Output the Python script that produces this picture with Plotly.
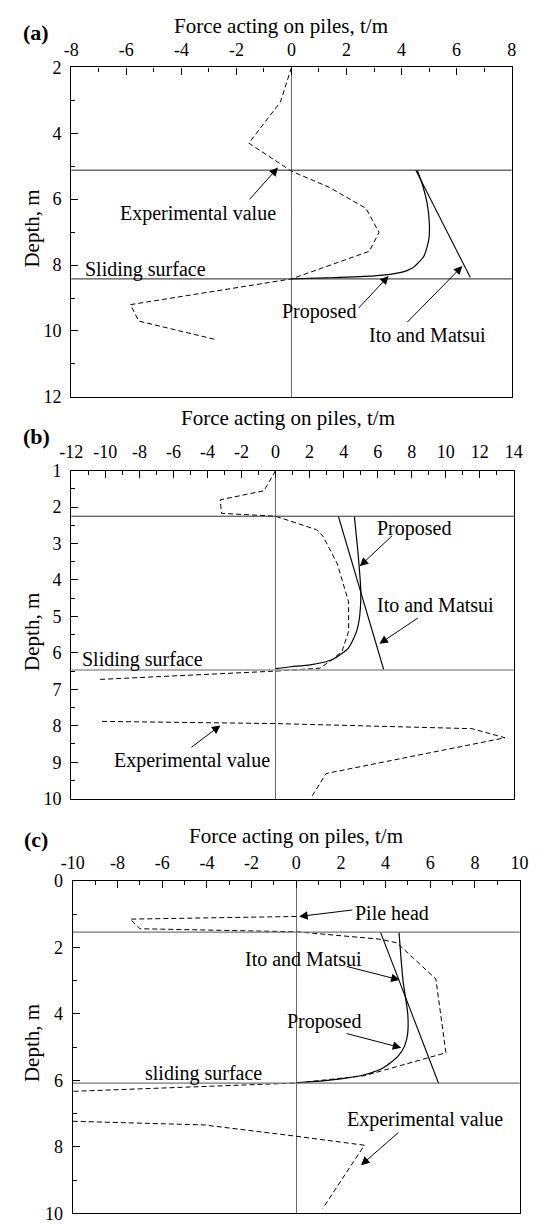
import plotly.graph_objects as go

# ---------------- data ----------------
# (a)
a_exp_force = [0.0, -0.4, -1.55, 0.0, 1.37, 2.71, 3.18, 2.83, 0.0, -5.85, -5.55, -2.7]
a_exp_depth = [2.0, 3.05, 4.3, 5.15, 5.64, 6.28, 7.01, 7.58, 8.42, 9.2, 9.7, 10.27]
a_prop_force = [4.57, 4.75, 4.93, 5.01, 4.99, 4.81, 4.41, 3.94, 3.0, 1.26, 0.0]
a_prop_depth = [5.12, 5.54, 6.13, 6.73, 7.23, 7.73, 8.08, 8.23, 8.33, 8.39, 8.42]
a_ito_force = [4.52, 6.5]
a_ito_depth = [5.12, 8.38]
a_pile_top = 5.12
a_sliding = 8.42

# (b)
b_exp_force = [0.0, -0.68, -3.25, -3.18, 0.0, 2.41, 2.79, 3.63, 4.29, 4.29, 3.91, 3.35, 2.6, 0.0, -10.39,
               None, -10.2, 0.0, 11.54, 13.48, 2.97, 2.13]
b_exp_depth = [1.0, 1.55, 1.8, 2.17, 2.25, 2.62, 2.8, 3.56, 4.6, 5.41, 5.95, 6.18, 6.42, 6.5, 6.73,
               None, 7.88, 7.94, 8.08, 8.33, 9.31, 9.94]
b_prop_force = [4.63, 4.86, 5.01, 4.95, 4.76, 4.29, 3.35, 2.03, 0.9, 0.0]
b_prop_depth = [2.25, 3.34, 4.33, 4.96, 5.41, 5.86, 6.18, 6.33, 6.38, 6.43]
b_ito_force = [3.69, 6.36]
b_ito_depth = [2.25, 6.47]
b_pile_top = 2.25
b_sliding = 6.47

# (c)
c_exp_force = [0.0, -7.43, -7.0, 0.0, 3.7, 4.5, 6.25, 6.7, 3.05, 0.0, -10.0,
               None, -10.0, -4.12, 0.0, 3.05, 1.19]
c_exp_depth = [1.07, 1.15, 1.44, 1.53, 1.75, 1.86, 2.95, 5.17, 5.86, 6.08, 6.33,
               None, 7.23, 7.34, 7.68, 7.95, 9.85]
c_prop_force = [4.6, 4.78, 4.99, 4.99, 4.85, 4.56, 3.92, 3.05, 1.91, 0.7, 0.0]
c_prop_depth = [1.54, 3.0, 3.98, 4.58, 4.97, 5.27, 5.61, 5.83, 5.96, 6.04, 6.07]
c_ito_force = [3.77, 6.38]
c_ito_depth = [1.54, 6.1]
c_pile_head = 1.54
c_sliding = 6.08

x_ranges = [[-8, 8], [-12, 14], [-10, 10]]
y_ranges = [[12, 2], [10, 1], [10, 0]]
x_dticks = [2, 2, 2]
y_dticks = [2, 1, 2]
panel_tags = ["(a)", "(b)", "(c)"]
x_title = "Force acting on piles, t/m"
y_title = "Depth, m"

# ---------------- layout helpers ----------------
W, H = 544, 1228
FONT = "Liberation Serif, Times New Roman, serif"
# plot boxes in pixels: left, right, top, bottom
boxes = [(61.7, 519.7, 58.3, 393.3),
         (61.7, 522.0, 468.3, 801.7),
         (63.3, 528.0, 885.3, 1223.3)]
x_label_gap = [3, 4, 4]


def fx(px):
    return px / W


def fy(py):
    return 1 - py / H


def tick_values(lo, hi, step):
    n = int(round((hi - lo) / step))
    return [lo + k * step for k in range(n + 1)]


fig = go.Figure()

series = [
    (a_exp_force, a_exp_depth, a_prop_force, a_prop_depth, a_ito_force, a_ito_depth),
    (b_exp_force, b_exp_depth, b_prop_force, b_prop_depth, b_ito_force, b_ito_depth),
    (c_exp_force, c_exp_depth, c_prop_force, c_prop_depth, c_ito_force, c_ito_depth),
]

for i, (ef, ed, pf, pd, itf, itd) in enumerate(series):
    xa = "x" if i == 0 else f"x{i+1}"
    ya = "y" if i == 0 else f"y{i+1}"
    fig.add_trace(go.Scatter(x=ef, y=ed, mode="lines", xaxis=xa, yaxis=ya,
                             line=dict(color="black", width=1, dash="5px,3px"),
                             connectgaps=False, showlegend=False))
    fig.add_trace(go.Scatter(x=pf, y=pd, mode="lines", xaxis=xa, yaxis=ya,
                             line=dict(color="black", width=1.2, shape="spline", smoothing=0.6),
                             showlegend=False))
    fig.add_trace(go.Scatter(x=itf, y=itd, mode="lines", xaxis=xa, yaxis=ya,
                             line=dict(color="black", width=1.1), showlegend=False))

    l, r, t, b = boxes[i]
    xt = tick_values(x_ranges[i][0], x_ranges[i][1], x_dticks[i])
    yt = tick_values(min(y_ranges[i]), max(y_ranges[i]), y_dticks[i])
    axis_common = dict(showline=True, linecolor="black", linewidth=1.3, mirror=True,
                       showgrid=False, ticks="inside", ticklen=7, tickwidth=1.2,
                       tickcolor="black",
                       tickfont=dict(family=FONT, size=18, color="black"))
    xkey = "xaxis" if i == 0 else f"xaxis{i+1}"
    ykey = "yaxis" if i == 0 else f"yaxis{i+1}"
    fig.update_layout({
        xkey: dict(axis_common, domain=[fx(l), fx(r)], anchor=ya, side="top",
                   range=x_ranges[i], tickmode="array", tickvals=xt,
                   ticktext=[f"{v:g}" for v in xt],
                   zeroline=True, zerolinecolor="#6a6a6a",
                   zerolinewidth=1, ticklabelstandoff=x_label_gap[i],
                   minor=dict(ticks="inside", ticklen=4, dtick=x_dticks[i] / 2,
                              tickcolor="black", tickwidth=1)),
        ykey: dict(axis_common, domain=[fy(b), fy(t)], anchor=xa,
                   range=y_ranges[i], tickmode="array", tickvals=yt,
                   ticktext=[f"{v:g}" for v in yt],
                   zeroline=False, ticklabelstandoff=5,
                   minor=dict(ticks="inside", ticklen=4, dtick=y_dticks[i] / 2,
                              tickcolor="black", tickwidth=1)),
    })

# horizontal reference levels (pile head / sliding surface)
level_lines = [("x", "y", a_pile_top, "#222", 1.0), ("x", "y", a_sliding, "#222", 1.0),
               ("x2", "y2", b_pile_top, "#333", 1.0), ("x2", "y2", b_sliding, "#999", 1.6),
               ("x3", "y3", c_pile_head, "#777", 1.2), ("x3", "y3", c_sliding, "#777", 1.2)]
for xa, ya, d, col, w in level_lines:
    fig.add_shape(type="line", xref=f"{xa} domain", yref=ya, x0=0, x1=1, y0=d, y1=d,
                  line=dict(color=col, width=w))

txt_font = dict(family=FONT, size=20, color="black")

# labels placed inside the axes (x, y in data units)
labels = [
    ("x", "y", -3.39, 6.43, "Experimental value"),
    ("x", "y", 1.0, 9.4, "Proposed"),
    ("x", "y", 4.93, 10.12, "Ito and Matsui"),
    ("x", "y", -5.31, 8.12, "Sliding surface"),
    ("x2", "y2", 8.14, 2.6, "Proposed"),
    ("x2", "y2", 9.41, 4.69, "Ito and Matsui"),
    ("x2", "y2", -7.82, 6.19, "Sliding surface"),
    ("x2", "y2", -4.93, 8.96, "Experimental value"),
    ("x3", "y3", 4.29, 0.97, "Pile head"),
    ("x3", "y3", 0.34, 2.35, "Ito and Matsui"),
    ("x3", "y3", 1.26, 4.23, "Proposed"),
    ("x3", "y3", -4.15, 5.79, "sliding surface"),
    ("x3", "y3", 5.76, 7.19, "Experimental value"),
]
for xa, ya, x, y, t in labels:
    fig.add_annotation(xref=xa, yref=ya, x=x, y=y, text=t, showarrow=False,
                       xanchor="center", yanchor="middle", font=txt_font)

# leader arrows: (tail x, tail y) -> (head x, head y)
arrows = [
    ("x", "y", -1.57, 6.05, -0.49, 5.04),
    ("x", "y", 2.39, 9.35, 3.53, 8.33),
    ("x", "y", 4.15, 9.78, 6.21, 8.03),
    ("x2", "y2", 6.93, 2.75, 4.95, 3.62),
    ("x2", "y2", 8.44, 5.02, 6.1, 5.75),
    ("x2", "y2", -5.03, 8.62, -3.24, 7.99),
    ("x3", "y3", 2.58, 0.87, 0.13, 1.07),
    ("x3", "y3", 2.19, 2.56, 4.63, 2.98),
    ("x3", "y3", 2.19, 4.58, 4.7, 5.02),
    ("x3", "y3", 4.64, 7.53, 2.9, 8.55),
]
for xa, ya, tx, ty, hx, hy in arrows:
    fig.add_annotation(xref=xa, yref=ya, axref=xa, ayref=ya, x=hx, y=hy, ax=tx, ay=ty,
                       text="", showarrow=True, arrowhead=2, arrowsize=1.7, arrowwidth=1,
                       arrowcolor="black", standoff=0, startstandoff=0)

# panel titles, tags and depth axis titles
title_pos = [(280, 16), (287, 415), (295, 840)]
tag_pos = [(25, 23), (25, 434), (25, 843)]
ytitle_pos = [(21, 222), (21, 632), (21, 1050)]
for i in range(3):
    fig.add_annotation(xref="paper", yref="paper", x=fx(title_pos[i][0]), y=fy(title_pos[i][1]),
                       text=x_title, showarrow=False, xanchor="center", yanchor="middle",
                       font=dict(family=FONT, size=21, color="black"))
    fig.add_annotation(xref="paper", yref="paper", x=fx(tag_pos[i][0]), y=fy(tag_pos[i][1]),
                       text=f"<b>{panel_tags[i]}</b>", showarrow=False, xanchor="center",
                       yanchor="middle", font=dict(family=FONT, size=22, color="black"))
    fig.add_annotation(xref="paper", yref="paper", x=fx(ytitle_pos[i][0]), y=fy(ytitle_pos[i][1]),
                       text=y_title, showarrow=False, textangle=-90, xanchor="center",
                       yanchor="middle", font=dict(family=FONT, size=21, color="black"))

fig.update_layout(width=W, height=H, margin=dict(l=0, r=0, t=0, b=0),
                  paper_bgcolor="white", plot_bgcolor="white", showlegend=False)

fig.write_html("out.html")
